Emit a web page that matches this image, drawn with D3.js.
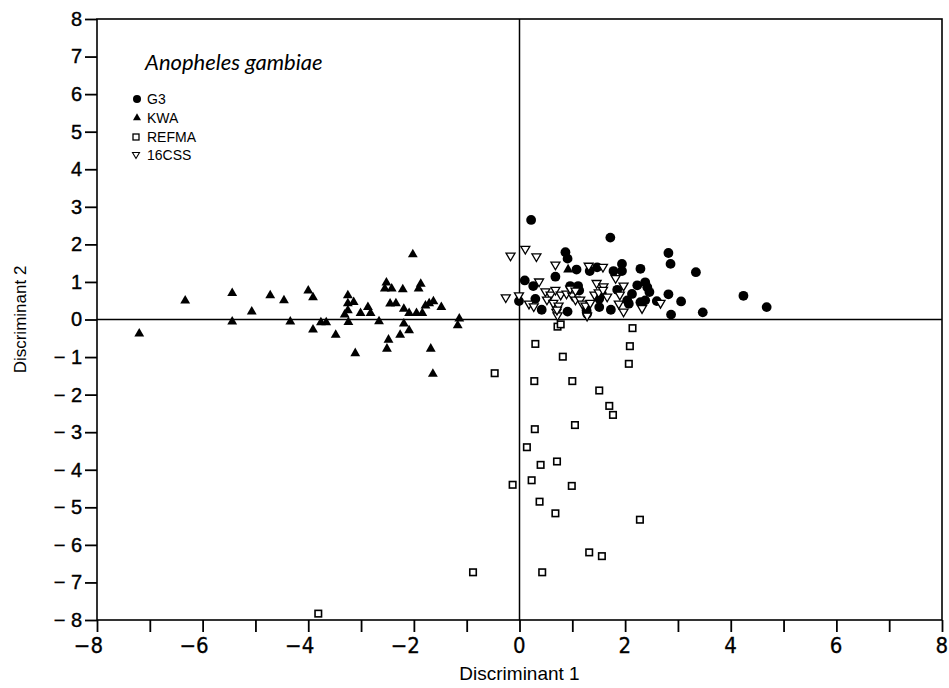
<!DOCTYPE html>
<html>
<head>
<meta charset="utf-8">
<script src="https://cdn.jsdelivr.net/npm/d3@7"></script>
<style>
  body { margin: 0; background: #fff; }
  svg { display: block; }
</style>
</head>
<body>
<script>
// values (discriminant scores)
const g3 = [
  [0.22, 2.65], [1.72, 2.18], [0.87, 1.79], [0.91, 1.62], [1.08, 1.33], [1.33, 1.29],
  [1.47, 1.39], [1.78, 1.29], [1.94, 1.48], [1.94, 1.29], [2.29, 1.35], [0.10, 1.04],
  [0.68, 1.14], [0.26, 0.89], [0.30, 0.55], [-0.01, 0.49], [0.42, 0.26], [0.96, 0.89],
  [1.11, 0.89], [1.13, 0.77], [0.91, 0.21], [1.27, 0.24], [1.28, 0.15], [1.51, 0.55],
  [1.51, 0.33], [1.56, 0.68], [1.73, 0.26], [1.85, 0.79], [2.04, 0.51], [2.07, 0.42],
  [2.13, 0.68], [2.23, 0.91], [2.38, 0.99], [2.42, 0.86], [2.46, 0.73], [2.29, 0.46],
  [2.38, 0.51], [2.60, 0.49], [2.82, 1.77], [2.86, 1.48], [3.34, 1.26], [2.82, 0.67],
  [3.06, 0.48], [2.87, 0.13], [3.47, 0.19], [4.24, 0.63], [4.68, 0.33]
];
const kwa = [
  [-7.20, -0.38], [-6.33, 0.50], [-5.44, 0.70], [-5.44, -0.06], [-5.07, 0.21], [-4.72, 0.64],
  [-4.46, 0.51], [-4.34, -0.06], [-4.00, 0.77], [-3.91, 0.59], [-3.91, -0.27], [-3.76, -0.08],
  [-3.66, -0.08], [-3.48, -0.41], [-3.25, 0.64], [-3.25, 0.43], [-3.14, 0.46], [-3.25, 0.24],
  [-3.31, 0.13], [-3.24, -0.07], [-3.11, -0.90], [-3.01, 0.17], [-2.87, 0.33], [-2.82, 0.17],
  [-2.66, -0.05], [-2.52, 0.98], [-2.55, 0.82], [-2.42, 0.82], [-2.21, 0.80], [-2.02, 1.73],
  [-1.87, 0.95], [-1.91, 0.82], [-2.45, 0.42], [-2.34, 0.43], [-2.19, 0.28], [-2.09, 0.17],
  [-1.95, 0.17], [-1.84, 0.17], [-1.78, 0.37], [-1.71, 0.43], [-1.63, 0.48], [-1.48, 0.33],
  [-2.19, -0.11], [-2.09, -0.29], [-2.26, -0.41], [-2.48, -0.54], [-2.51, -0.78], [-1.68, -0.78],
  [-1.64, -1.45], [-1.14, 0.02], [-1.17, -0.16], [0.92, 1.33]
];
const refma = [
  [0.72, -0.19], [0.78, -0.13], [2.14, -0.23], [0.30, -0.65], [2.09, -0.71], [0.82, -0.99],
  [2.07, -1.18], [-0.47, -1.43], [0.28, -1.64], [1.00, -1.64], [1.51, -1.89], [1.70, -2.30],
  [1.77, -2.54], [0.29, -2.92], [1.05, -2.81], [0.14, -3.40], [0.40, -3.87], [0.71, -3.78],
  [-0.13, -4.40], [0.23, -4.28], [0.99, -4.43], [0.38, -4.85], [0.68, -5.16], [2.28, -5.33],
  [1.32, -6.20], [1.56, -6.30], [-0.88, -6.73], [0.43, -6.73], [-3.81, -7.83]
];
const css16 = [
  [0.11, 1.86], [-0.17, 1.68], [0.32, 1.66], [0.68, 1.44], [1.31, 1.41], [1.58, 1.38],
  [1.82, 1.08], [0.37, 0.99], [1.46, 0.95], [1.59, 0.86], [1.97, 0.88], [-0.26, 0.57],
  [-0.01, 0.62], [0.18, 0.40], [0.27, 0.33], [0.49, 0.73], [0.59, 0.64], [0.52, 0.51],
  [0.68, 0.77], [0.78, 0.64], [0.64, 0.42], [0.74, 0.35], [0.70, 0.18], [0.72, 0.09],
  [0.89, 0.67], [1.00, 0.62], [1.06, 0.51], [1.15, 0.51], [0.96, 0.80], [1.06, 0.75],
  [1.19, 0.40], [1.25, 0.35], [1.34, 0.42], [1.42, 0.64], [1.50, 0.70], [1.58, 0.77],
  [1.66, 0.59], [1.90, 0.64], [1.88, 0.40], [1.97, 0.19], [2.32, 0.28], [1.28, 0.08],
  [2.67, 0.42], [0.71, 0.24]
];
const legendNames = ["G3", "KWA", "REFMA", "16CSS"];
const xTicks = d3.range(-8, 9);
const yTicks = d3.range(-8, 9);

const w = 949, h = 688;
const svg = d3.select("body").append("svg").attr("width", w).attr("height", h);

const x = d3.scaleLinear().domain([-8, 8]).range([97, 942]);
const y = d3.scaleLinear().domain([-8, 8]).range([620, 19]);

// frame
svg.append("rect")
  .attr("x", x(-8)).attr("y", y(8))
  .attr("width", x(8) - x(-8)).attr("height", y(-8) - y(8))
  .attr("fill", "none").attr("stroke", "#000").attr("stroke-width", 1.6);

// zero lines
svg.append("line").attr("x1", x(-8)).attr("x2", x(8)).attr("y1", y(0)).attr("y2", y(0))
  .attr("stroke", "#000").attr("stroke-width", 1.5);
svg.append("line").attr("x1", x(0)).attr("x2", x(0)).attr("y1", y(8)).attr("y2", y(-8))
  .attr("stroke", "#000").attr("stroke-width", 1.5);

// axes
const xAxis = d3.axisBottom(x).tickValues(xTicks).tickSize(12).tickSizeOuter(0).tickPadding(5)
  .tickFormat(d => (d % 2 === 0) ? (d < 0 ? "\u2212" + Math.abs(d) : String(d)) : "");
const gx = svg.append("g").attr("transform", "translate(0," + y(-8) + ")").call(xAxis);
gx.select(".domain").remove();
gx.selectAll(".tick line").attr("stroke", "#000").attr("stroke-width", 1.8);
gx.selectAll(".tick text")
  .attr("font-family", "'Liberation Sans Narrow', 'DejaVu Sans Condensed', sans-serif")
  .attr("font-size", 22).attr("fill", "#000")
  .attr("stroke", "#000").attr("stroke-width", 0.3)
  .attr("text-anchor", "end").attr("dx", 5.5);

const yAxis = d3.axisLeft(y).tickValues(yTicks).tickSize(12).tickSizeOuter(0).tickPadding(3)
  .tickFormat(d => d < 0 ? "\u2212 " + Math.abs(d) : String(d));
const gy = svg.append("g").attr("transform", "translate(" + x(-8) + ",0)").call(yAxis);
gy.select(".domain").remove();
gy.selectAll(".tick line").attr("stroke", "#000").attr("stroke-width", 1.8);
gy.selectAll(".tick text")
  .attr("font-family", "'Liberation Sans', Arial, sans-serif")
  .attr("font-size", 20).attr("fill", "#000")
  .attr("stroke", "#000").attr("stroke-width", 0.4);

// axis titles
svg.append("text").attr("x", x(0)).attr("y", 680)
  .attr("text-anchor", "middle")
  .attr("font-family", "'Liberation Sans Narrow', 'Liberation Sans', sans-serif")
  .attr("font-size", 19).text("Discriminant 1");
svg.append("text").attr("transform", "translate(26," + y(0) + ") rotate(-90)")
  .attr("text-anchor", "middle")
  .attr("font-family", "'Liberation Sans', sans-serif")
  .attr("font-size", 17).text("Discriminant 2");

// marker shapes
const triUp = d3.symbol().type(d3.symbolTriangle).size(42);
const triDown = "M-4.5,-3.3L4.5,-3.3L0,4.4Z";
const sq = 6.5;

svg.append("g").selectAll("circle").data(g3).join("circle")
  .attr("cx", d => x(d[0])).attr("cy", d => y(d[1])).attr("r", 4.9).attr("fill", "#000");

svg.append("g").selectAll("path").data(kwa).join("path")
  .attr("d", triUp)
  .attr("transform", d => "translate(" + x(d[0]) + "," + y(d[1]) + ")")
  .attr("fill", "#000");

svg.append("g").selectAll("rect").data(refma).join("rect")
  .attr("x", d => x(d[0]) - sq / 2).attr("y", d => y(d[1]) - sq / 2)
  .attr("width", sq).attr("height", sq)
  .attr("fill", "#fff").attr("stroke", "#000").attr("stroke-width", 1.6);

svg.append("g").selectAll("path").data(css16).join("path")
  .attr("d", triDown)
  .attr("transform", d => "translate(" + x(d[0]) + "," + y(d[1]) + ")")
  .attr("fill", "#fff").attr("stroke", "#000").attr("stroke-width", 1.3);

// title + legend
svg.append("text").attr("x", 145).attr("y", 70)
  .attr("font-family", "Lato, 'Open Sans', sans-serif").attr("font-style", "italic")
  .attr("font-size", 22).text("Anopheles gambiae");

const legY = [99, 118, 137, 155];
const leg = svg.append("g");
leg.append("circle").attr("cx", 137).attr("cy", legY[0]).attr("r", 4).attr("fill", "#000");
leg.append("path").attr("d", d3.symbol().type(d3.symbolTriangle).size(28))
  .attr("transform", "translate(137," + legY[1] + ")").attr("fill", "#000");
leg.append("rect").attr("x", 133).attr("y", legY[2] - 3).attr("width", 6).attr("height", 6)
  .attr("fill", "#fff").attr("stroke", "#000").attr("stroke-width", 1.3);
leg.append("path").attr("d", "M-3.5,-2.5L3.5,-2.5L0,3.5Z")
  .attr("transform", "translate(136," + legY[3] + ")")
  .attr("fill", "#fff").attr("stroke", "#000").attr("stroke-width", 1.1);
leg.selectAll("text").data(legendNames).join("text")
  .attr("x", 147).attr("y", (d, i) => legY[i] + 5)
  .attr("font-family", "'Liberation Sans', sans-serif").attr("font-size", 14)
  .text(d => d);
</script>
</body>
</html>
